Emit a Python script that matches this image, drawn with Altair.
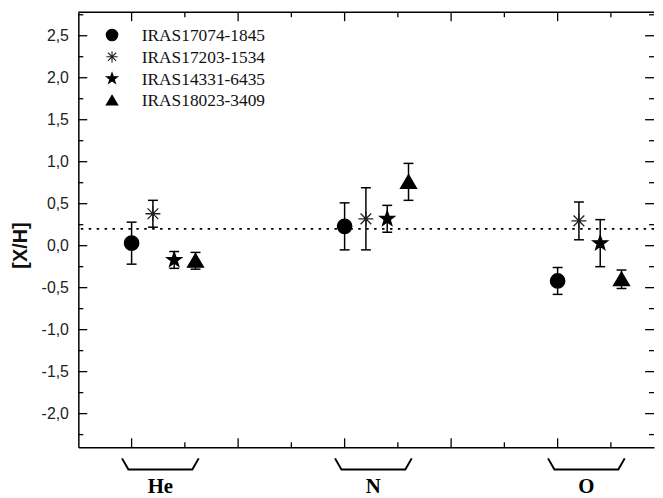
import altair as alt
import pandas as pd

# ---------------- data ----------------
elements = ["He", "N", "O"]
series = ["IRAS17074-1845", "IRAS17203-1534", "IRAS14331-6435", "IRAS18023-3409"]

# [X/H] per series, element order He, N, O
iras17074_val = [0.03, 0.23, -0.42]
iras17203_val = [0.38, 0.32, 0.295]
iras14331_val = [-0.17, 0.32, 0.03]
iras18023_val = [-0.18, 0.76, -0.40]

# error bars (half widths)
iras17074_err = [0.25, 0.28, 0.16]
iras17203_err = [0.16, 0.37, 0.225]
iras14331_err = [0.10, 0.16, 0.28]
iras18023_err = [0.10, 0.22, 0.11]

reference_level = 0.2

y_major = [-2.0, -1.5, -1.0, -0.5, 0.0, 0.5, 1.0, 1.5, 2.0, 2.5]
y_minor = [-2.25, -1.75, -1.25, -0.75, -0.25, 0.25, 0.75, 1.25, 1.75, 2.25, 2.75]
x_major = [1, 2, 3, 4, 5]
x_minor = [1.5, 2.5, 3.5, 4.5, 5.5]

# ---------------- layout ----------------
W, H = 581, 439
X_DOMAIN = [0.5, 5.905]
Y_DOMAIN = [-2.4, 2.78]
group_pos = [1 + 2 * i for i in range(len(elements))]
series_shift = 0.2

vals = [iras17074_val, iras17203_val, iras14331_val, iras18023_val]
errs = [iras17074_err, iras17203_err, iras14331_err, iras18023_err]

rows = []
for j, s in enumerate(series):
    for i, e in enumerate(elements):
        v = vals[j][i]
        er = errs[j][i]
        rows.append({"series": s, "element": e, "x": group_pos[i] + series_shift * j,
                     "y": v, "lo": v - er, "hi": v + er})
df = pd.DataFrame(rows)
caps = pd.concat([df[["x", "lo"]].rename(columns={"lo": "c"}),
                  df[["x", "hi"]].rename(columns={"hi": "c"})])

xs = alt.Scale(domain=X_DOMAIN, nice=False, zero=False)
ys = alt.Scale(domain=Y_DOMAIN, nice=False, zero=False)
xaxis = alt.Axis(title=None, labels=False, ticks=False, grid=False, domain=True,
                 domainColor="black", domainWidth=1.5)
label_expr = "(datum.value < 0 ? '-' : '') + replace(format(abs(datum.value), '.1f'), '.', ',')"
yaxis = alt.Axis(title="[X/H]", values=y_major, labelExpr=label_expr, ticks=False, tickSize=0,
                 labelPadding=10, grid=False, domain=True, domainColor="black", domainWidth=1.5,
                 labelFont="Liberation Sans", labelFontSize=16, labelColor="#222",
                 titleFont="Liberation Sans", titleFontSize=20, titleFontWeight="bold",
                 titleColor="#111", titleX=-48, titleY=235, titleAngle=270)

star_path = ("M0,-1L0.235,-0.324L0.951,-0.309L0.38,0.124L0.588,0.809L0,0.4L-0.588,0.809"
             "L-0.38,0.124L-0.951,-0.309L-0.235,-0.324Z")
aster_path = "M0,-1L0,1M-1,0L1,0M-0.72,-0.72L0.72,0.72M-0.72,0.72L0.72,-0.72"
tri_path = "M0,-0.9L1,0.8L-1,0.8Z"
shapes = ["circle", aster_path, star_path, tri_path]
fills = ["black", "transparent", "black", "black"]
strokes = ["black", "#222", "black", "black"]

X = lambda f: alt.X(f, type="quantitative", scale=xs, axis=xaxis)
Y = lambda f: alt.Y(f, type="quantitative", scale=ys, axis=yaxis)

ref = alt.Chart(pd.DataFrame({"y": [reference_level]})).mark_rule(
    color="black", strokeWidth=2, strokeDash=[2.5, 5.5]).encode(y=Y("y"))

bars = alt.Chart(df).mark_rule(color="black", strokeWidth=1.5).encode(
    x=X("x"), y=Y("lo"), y2="hi")
capmarks = alt.Chart(caps).mark_tick(color="black", orient="horizontal", size=10,
                                     thickness=1.5, opacity=1).encode(x=X("x"), y=Y("c"))

points = alt.Chart(df).mark_point(opacity=1, strokeWidth=1.3).encode(
    x=X("x"), y=Y("y"),
    shape=alt.Shape("series:N", scale=alt.Scale(domain=series, range=shapes), legend=None),
    fill=alt.Fill("series:N", scale=alt.Scale(domain=series, range=fills), legend=None),
    stroke=alt.Stroke("series:N", scale=alt.Scale(domain=series, range=strokes), legend=None),
    size=alt.Size("series:N", scale=alt.Scale(domain=series, range=[210, 260, 220, 150]),
                  legend=None),
)

# legend (drawn as marks in the upper-left corner of the plot)
legend_layers = []
leg_sizes = [135, 130, 135, 135]
for k, s in enumerate(series):
    d = pd.DataFrame({"series": [s]})
    yy = 23 + 22 * k
    legend_layers.append(alt.Chart(d).mark_point(
        shape=shapes[k], fill=fills[k], stroke=strokes[k], size=leg_sizes[k],
        strokeWidth=1.1, opacity=1, filled=False).encode(x=alt.value(34), y=alt.value(yy)))
    legend_layers.append(alt.Chart(d).mark_text(
        font="Liberation Serif", fontSize=17.5, color="#111", align="left",
        baseline="middle").encode(x=alt.value(64), y=alt.value(yy + 1), text="series:N"))

def tick_layer(values, axis_dir, side, length):
    d = pd.DataFrame({"t": values})
    c = alt.Chart(d).mark_rule(color="black", strokeWidth=1.3)
    if axis_dir == "y":
        if side == "left":
            return c.encode(y=Y("t"), x=alt.value(0), x2=alt.value(length))
        return c.encode(y=Y("t"), x=alt.value(W - length), x2=alt.value(W))
    if side == "top":
        return c.encode(x=X("t"), y=alt.value(0), y2=alt.value(length))
    return c.encode(x=X("t"), y=alt.value(H - length), y2=alt.value(H))

ticks = [
    tick_layer(y_major, "y", "left", 9), tick_layer(y_minor, "y", "left", 5),
    tick_layer(y_major, "y", "right", 9), tick_layer(y_minor, "y", "right", 5),
    tick_layer(x_major, "x", "top", 9), tick_layer(x_minor, "x", "top", 5),
    tick_layer(x_major, "x", "bottom", 9), tick_layer(x_minor, "x", "bottom", 5),
]

top_border = alt.Chart(pd.DataFrame({"a": [0]})).mark_rule(color="black", strokeWidth=1.5).encode(
    x=alt.value(0), x2=alt.value(W), y=alt.value(0))

# brackets under each element group
center_shift = 0.27
brows = []
for i, e in enumerate(elements):
    c = group_pos[i] + center_shift
    for k, (dx, yy) in enumerate([(-0.36, -2.533), (-0.3, -2.665), (0.3, -2.665), (0.36, -2.533)]):
        brows.append({"element": e, "k": k, "bx": c + dx, "by": yy})
bdf = pd.DataFrame(brows)
brackets = alt.Chart(bdf).mark_line(color="black", strokeWidth=2, clip=False).encode(
    x=X("bx"), y=Y("by"), detail="element:N", order="k:Q")

ldf = pd.DataFrame({"element": elements, "lx": [p + center_shift for p in group_pos]})
labels = alt.Chart(ldf).mark_text(font="Liberation Serif", fontWeight="bold", fontSize=21,
                                  baseline="alphabetic", color="black").encode(
    x=X("lx"), y=alt.value(H + 46), text="element:N")

chart = alt.layer(ref, bars, capmarks, *ticks, top_border, brackets, labels, points,
                  *legend_layers).properties(
    width=W, height=H, padding={"left": 3, "top": 1, "right": 0, "bottom": 0}
).configure_view(stroke=None)

chart.save("out.html", embed_options={"renderer": "svg", "actions": False})
